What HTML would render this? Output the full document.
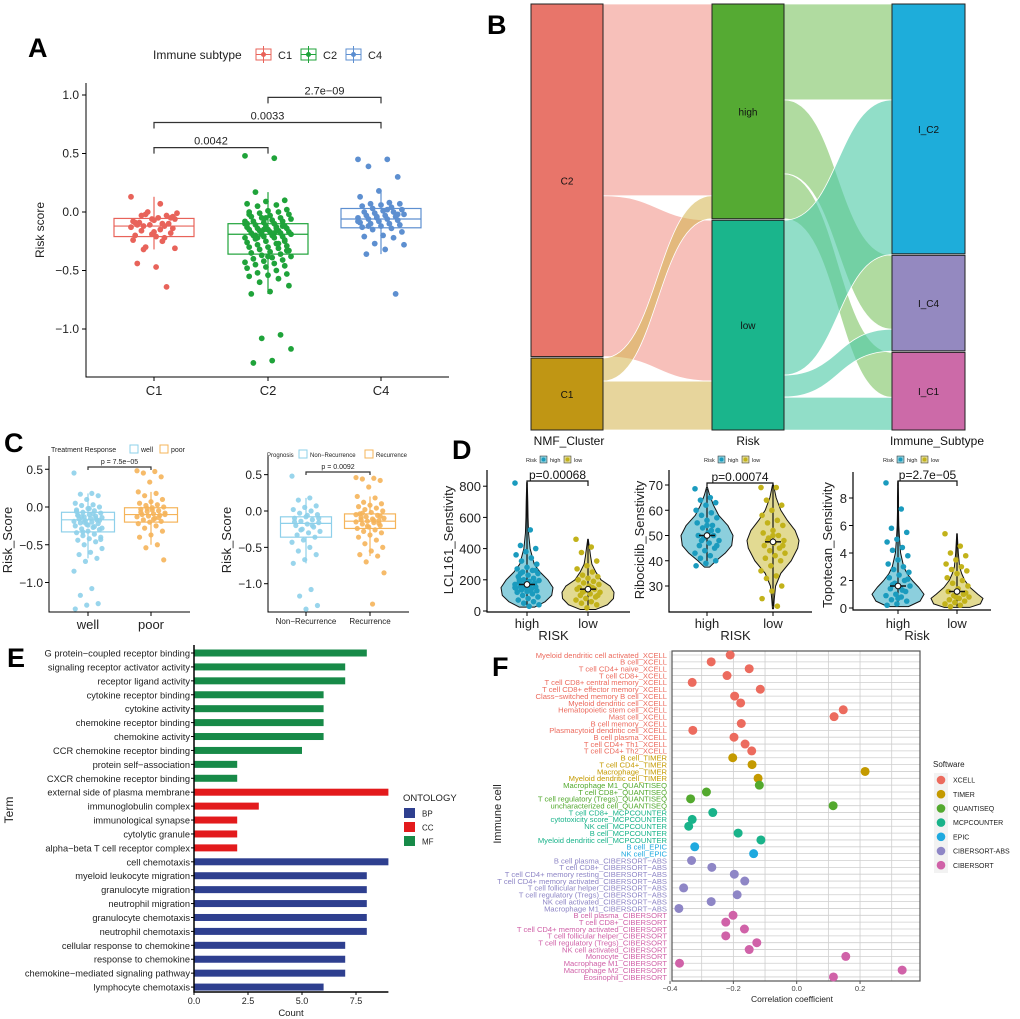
<!DOCTYPE html>
<html><head><meta charset="utf-8"><style>
html,body{margin:0;padding:0;background:#fff;}
svg{display:block;font-family:"Liberation Sans",Arial,sans-serif;}
</style></head><body>
<svg id="fig" width="1020" height="1019" viewBox="0 0 1020 1019" xmlns="http://www.w3.org/2000/svg">
<rect x="0" y="0" width="1020" height="1019" fill="#fff"/>
<g font-weight="bold" font-size="27" fill="#000">
<text x="28" y="57">A</text>
<text x="487" y="34">B</text>
<text x="4" y="452">C</text>
<text x="452" y="459">D</text>
<text x="7" y="667">E</text>
<text x="492" y="676">F</text>
</g>
<g id="pA"></g>
<g id="pB"></g>
<g id="pC"></g>
<g id="pD"></g>
<g id="pE"></g>
<g id="pF"></g>
</svg>
<script>
// ===== DATA =====
// Panel A
const aGroups = ["C1","C2","C4"];
const aC1 = [0.13,0.07,-0.03,-0.05,-0.06,-0.08,-0.1,-0.12,-0.14,-0.17,-0.2,-0.22,-0.3,-0.31,-0.47,-0.44,-0.64,0.0,-0.01,-0.05,-0.09,-0.1,-0.11,-0.13,-0.15,-0.16,-0.18,-0.19,-0.24,-0.25,-0.32,-0.04,-0.07,-0.09,-0.12,-0.02,-0.06,-0.21,-0.11,-0.03];
const aC2 = [0.48,0.46,0.17,0.1,0.09,0.07,0.06,0.05,0.02,0.01,0.0,0.0,-0.01,-0.02,-0.03,-0.04,-0.05,-0.05,-0.06,-0.07,-0.08,-0.08,-0.09,-0.1,-0.1,-0.11,-0.12,-0.12,-0.13,-0.13,-0.14,-0.14,-0.15,-0.15,-0.16,-0.16,-0.17,-0.17,-0.18,-0.18,-0.19,-0.19,-0.2,-0.2,-0.21,-0.21,-0.22,-0.22,-0.23,-0.24,-0.25,-0.26,-0.27,-0.28,-0.29,-0.3,-0.3,-0.31,-0.32,-0.33,-0.34,-0.35,-0.36,-0.37,-0.38,-0.39,-0.4,-0.41,-0.42,-0.43,-0.44,-0.45,-0.46,-0.47,-0.48,-0.5,-0.52,-0.53,-0.54,-0.55,-0.57,-0.6,-0.63,-0.68,-0.7,-1.05,-1.08,-1.17,-1.27,-1.29,-0.12,-0.15,-0.08,-0.18,-0.2,-0.25,-0.05,-0.1,-0.14,-0.22,-0.33,-0.38,-0.02,-0.27];
const aC4 = [0.45,0.45,0.39,0.3,0.18,0.13,0.08,0.07,0.07,0.06,0.05,0.04,0.03,0.02,0.01,0.0,0.0,-0.01,-0.02,-0.03,-0.03,-0.04,-0.05,-0.05,-0.06,-0.06,-0.07,-0.08,-0.09,-0.1,-0.1,-0.11,-0.12,-0.13,-0.14,-0.15,-0.17,-0.2,-0.21,-0.22,-0.27,-0.28,-0.32,-0.36,-0.7,-0.04,-0.08,0.02,-0.12,-0.02];
const aBoxC1 = [-0.32,-0.21,-0.12,-0.055,0.13];
const aBoxC2 = [-0.70,-0.36,-0.19,-0.10,0.17];
const aBoxC4 = [-0.36,-0.135,-0.06,0.03,0.17];
const aTicks = [1.0,0.5,0.0,-0.5,-1.0];
const aTickLabels = ["1.0","0.5","0.0","\u22120.5","\u22121.0"];
const aPvals = ["0.0042","0.0033","2.7e\u221209"];
const aPvalY = [0.55,0.765,0.98];
// Panel B (counts)
const bNmf = ["C2","C1"];
const bRisk = ["high","low"];
const bImm = ["I_C2","I_C4","I_C1"];
const bLeftFlows = [[0,0,192],[0,1,161],[1,0,23],[1,1,49]];
const bRightFlows = [[0,0,96],[0,1,74],[0,2,45],[1,0,155],[1,1,22],[1,2,33]];
// Panel C
const cWell = [0.45,0.18,0.17,0.15,0.1,0.05,0.03,0.02,0.0,-0.02,-0.04,-0.05,-0.07,-0.08,-0.1,-0.11,-0.12,-0.13,-0.14,-0.15,-0.16,-0.17,-0.18,-0.19,-0.2,-0.21,-0.22,-0.23,-0.25,-0.27,-0.29,-0.3,-0.32,-0.34,-0.36,-0.38,-0.4,-0.42,-0.44,-0.46,-0.5,-0.55,-0.6,-0.63,-0.68,-0.72,-0.85,-1.08,-1.17,-1.28,-1.3,-1.35,-0.09,-0.13,-0.18,-0.24,-0.06,-0.26,-0.33,-0.43,-0.02,-0.11,-0.15,-0.2,-0.28];
const cPoor = [0.48,0.47,0.45,0.4,0.33,0.2,0.18,0.15,0.1,0.07,0.05,0.03,0.02,0.0,-0.01,-0.03,-0.05,-0.06,-0.08,-0.09,-0.1,-0.11,-0.12,-0.13,-0.15,-0.17,-0.19,-0.2,-0.22,-0.25,-0.28,-0.32,-0.37,-0.4,-0.5,-0.54,-0.7,-0.04,-0.07,-0.14,-0.02,-0.1,-0.16];
const cNonRec = [0.48,0.18,0.15,0.07,0.05,0.02,0.0,-0.03,-0.05,-0.08,-0.1,-0.12,-0.14,-0.16,-0.18,-0.2,-0.22,-0.25,-0.28,-0.3,-0.33,-0.36,-0.4,-0.43,-0.5,-0.55,-0.6,-0.67,-0.72,-1.08,-1.17,-1.3,-1.35,-0.15,-0.2,-0.26,-0.1,-0.06];
const cRec = [0.46,0.45,0.44,0.42,0.33,0.2,0.18,0.12,0.1,0.08,0.06,0.04,0.02,0.0,-0.02,-0.04,-0.06,-0.08,-0.1,-0.11,-0.12,-0.13,-0.14,-0.15,-0.16,-0.18,-0.2,-0.22,-0.24,-0.26,-0.28,-0.3,-0.33,-0.36,-0.4,-0.45,-0.5,-0.55,-0.6,-0.62,-0.7,-0.85,-1.28,-0.09,-0.17,-0.21,-0.05,-0.13,-0.03,-0.07];
const cBoxWell = [-0.68,-0.33,-0.17,-0.07,0.18];
const cBoxPoor = [-0.5,-0.2,-0.1,-0.01,0.2];
const cBoxNonRec = [-0.72,-0.36,-0.17,-0.08,0.18];
const cBoxRec = [-0.62,-0.24,-0.14,-0.04,0.2];
const cTickLabels = ["0.5","0.0","\u22120.5","\u22121.0"];
const cTicks = [0.5,0.0,-0.5,-1.0];
// Panel D
const dLclHigh = [820,520,420,400,380,360,340,320,300,280,270,260,250,240,230,220,210,200,195,190,185,180,175,170,165,160,155,150,145,140,135,130,125,120,110,100,90,80,70,60,50,40,30,200,180,160,150,130,240,260];
const dLclLow = [460,410,375,320,290,270,250,230,220,210,200,190,180,170,160,150,140,130,120,110,100,90,80,70,60,50,40,20,140,150,120,100];
const dLclHighLv = [25,60,100,150,200,250,300,400,500,600,700,825];
const dLclHighW = [0.3,0.7,0.95,1.0,0.8,0.5,0.28,0.12,0.06,0.04,0.03,0.01];
const dLclLowLv = [10,40,80,120,160,200,250,300,350,400,460];
const dLclLowW = [0.3,0.75,0.98,1.0,0.85,0.5,0.3,0.15,0.1,0.06,0.01];
const dRiboHigh = [68.5,65,64,63,62,60,59,58,57,56,55,54,53,52,51,50,50,49,48,47,46,45,44,43,42,41,40,39,38,52,48,46,54];
const dRiboLow = [69,69,64,62,60,58,56,55,54,52,51,50,49,48,47,46,45,44,43,42,41,40,38,36,34,33,30,28,25,22,48,46,50];
const dRiboHighLv = [37.5,40,43,46,50,54,58,62,66,69];
const dRiboHighW = [0.1,0.35,0.7,0.95,1.0,0.8,0.45,0.25,0.1,0.02];
const dRiboLowLv = [21,25,30,35,40,45,48,52,56,60,65,70];
const dRiboLowW = [0.02,0.05,0.1,0.3,0.7,0.95,1.0,0.85,0.55,0.3,0.12,0.02];
const dTopoHigh = [9.1,7.2,5.8,5.5,5.0,4.8,4.4,4.2,3.8,3.5,3.2,3.0,2.8,2.6,2.4,2.2,2.0,1.8,1.6,1.5,1.4,1.2,1.0,0.9,0.8,0.6,0.5,0.3,0.2,1.3,1.7,2.1,0.7];
const dTopoLow = [5.4,4.5,4.0,3.8,3.5,3.2,3.0,2.8,2.7,2.5,2.2,2.0,1.8,1.6,1.4,1.2,1.0,0.9,0.8,0.7,0.6,0.5,0.4,0.3,0.2,0.1,1.1,0.8];
const dTopoHighLv = [0.1,0.5,1.0,1.5,2,2.5,3,4,5,6,7,8,9.2];
const dTopoHighW = [0.4,0.85,1.0,0.8,0.55,0.35,0.22,0.1,0.06,0.03,0.02,0.02,0.01];
const dTopoLowLv = [0.05,0.3,0.7,1.0,1.5,2,2.5,3,4,5.4];
const dTopoLowW = [0.5,0.9,1.0,0.8,0.5,0.3,0.18,0.1,0.05,0.01];
const dMedians = [170,140,50,47.5,1.6,1.2];
const dPvals = ["p=0.00068","p=0.00074","p=2.7e\u221205"];
// Panel E
const eTerms = ["G protein\u2212coupled receptor binding","signaling receptor activator activity","receptor ligand activity","cytokine receptor binding","cytokine activity","chemokine receptor binding","chemokine activity","CCR chemokine receptor binding","protein self\u2212association","CXCR chemokine receptor binding","external side of plasma membrane","immunoglobulin complex","immunological synapse","cytolytic granule","alpha\u2212beta T cell receptor complex","cell chemotaxis","myeloid leukocyte migration","granulocyte migration","neutrophil migration","granulocyte chemotaxis","neutrophil chemotaxis","cellular response to chemokine","response to chemokine","chemokine\u2212mediated signaling pathway","lymphocyte chemotaxis"];
const eCounts = [8,7,7,6,6,6,6,5,2,2,9,3,2,2,2,9,8,8,8,8,8,7,7,7,6];
const eOnt = ["MF","MF","MF","MF","MF","MF","MF","MF","MF","MF","CC","CC","CC","CC","CC","BP","BP","BP","BP","BP","BP","BP","BP","BP","BP"];
const eTicks = [0,2.5,5,7.5];
const eTickLabels = ["0.0","2.5","5.0","7.5"];
// Panel F
const fCells = ["Myeloid dendritic cell activated_XCELL","B cell_XCELL","T cell CD4+ naive_XCELL","T cell CD8+_XCELL","T cell CD8+ central memory_XCELL","T cell CD8+ effector memory_XCELL","Class\u2212switched memory B cell_XCELL","Myeloid dendritic cell_XCELL","Hematopoietic stem cell_XCELL","Mast cell_XCELL","B cell memory_XCELL","Plasmacytoid dendritic cell_XCELL","B cell plasma_XCELL","T cell CD4+ Th1_XCELL","T cell CD4+ Th2_XCELL","B cell_TIMER","T cell CD4+_TIMER","Macrophage_TIMER","Myeloid dendritic cell_TIMER","Macrophage M1_QUANTISEQ","T cell CD8+_QUANTISEQ","T cell regulatory (Tregs)_QUANTISEQ","uncharacterized cell_QUANTISEQ","T cell CD8+_MCPCOUNTER","cytotoxicity score_MCPCOUNTER","NK cell_MCPCOUNTER","B cell_MCPCOUNTER","Myeloid dendritic cell_MCPCOUNTER","B cell_EPIC","NK cell_EPIC","B cell plasma_CIBERSORT\u2212ABS","T cell CD8+_CIBERSORT\u2212ABS","T cell CD4+ memory resting_CIBERSORT\u2212ABS","T cell CD4+ memory activated_CIBERSORT\u2212ABS","T cell follicular helper_CIBERSORT\u2212ABS","T cell regulatory (Tregs)_CIBERSORT\u2212ABS","NK cell activated_CIBERSORT\u2212ABS","Macrophage M1_CIBERSORT\u2212ABS","B cell plasma_CIBERSORT","T cell CD8+_CIBERSORT","T cell CD4+ memory activated_CIBERSORT","T cell follicular helper_CIBERSORT","T cell regulatory (Tregs)_CIBERSORT","NK cell activated_CIBERSORT","Monocyte_CIBERSORT","Macrophage M1_CIBERSORT","Macrophage M2_CIBERSORT","Eosinophil_CIBERSORT"];
const fCorr = [-0.21,-0.27,-0.15,-0.22,-0.33,-0.115,-0.196,-0.177,0.147,0.118,-0.175,-0.328,-0.198,-0.163,-0.142,-0.202,-0.141,0.216,-0.122,-0.118,-0.285,-0.335,0.115,-0.265,-0.33,-0.341,-0.185,-0.113,-0.322,-0.136,-0.332,-0.268,-0.197,-0.164,-0.357,-0.188,-0.27,-0.372,-0.201,-0.224,-0.165,-0.224,-0.126,-0.15,0.155,-0.37,0.333,0.116];
const fSoftware = ["XCELL","XCELL","XCELL","XCELL","XCELL","XCELL","XCELL","XCELL","XCELL","XCELL","XCELL","XCELL","XCELL","XCELL","XCELL","TIMER","TIMER","TIMER","TIMER","QUANTISEQ","QUANTISEQ","QUANTISEQ","QUANTISEQ","MCPCOUNTER","MCPCOUNTER","MCPCOUNTER","MCPCOUNTER","MCPCOUNTER","EPIC","EPIC","CIBERSORT-ABS","CIBERSORT-ABS","CIBERSORT-ABS","CIBERSORT-ABS","CIBERSORT-ABS","CIBERSORT-ABS","CIBERSORT-ABS","CIBERSORT-ABS","CIBERSORT","CIBERSORT","CIBERSORT","CIBERSORT","CIBERSORT","CIBERSORT","CIBERSORT","CIBERSORT","CIBERSORT","CIBERSORT"];
const fSoftList = ["XCELL","TIMER","QUANTISEQ","MCPCOUNTER","EPIC","CIBERSORT-ABS","CIBERSORT"];
const fTicks = [-0.4,-0.2,0.0,0.2];
const fTickLabels = ["\u22120.4","\u22120.2","0.0","0.2"];

// ===== HELPERS =====
const NS = "http://www.w3.org/2000/svg";
function add(p, tag, a) { const e = document.createElementNS(NS, tag); for (const k in a) e.setAttribute(k, a[k]); p.appendChild(e); return e; }
function txt(p, x, y, s, a) { const e = add(p, "text", Object.assign({x: x, y: y}, a || {})); e.textContent = s; return e; }
function jit(i, w) { return (((i * 37) % 23) / 22 - 0.5) * w; }

// ===== PANEL A =====
(function () {
  const g = document.getElementById("pA");
  const yA = v => 212 - v * 117;
  const xA = [154, 268, 381];
  const cols = ["#E8635A", "#1FA33A", "#5D8FD0"];
  const pts = [aC1, aC2, aC4];
  const boxes = [aBoxC1, aBoxC2, aBoxC4];
  let e;
  e = add(g, "path", {d: "M86 83 V377 H449", fill: "none", stroke: "#000", "stroke-width": 1});
  
  
  aTicks.forEach((t, i) => {
    const l = add(g, "line", {x1: 82, x2: 86, y1: yA(t), y2: yA(t), stroke: "#000"});
    
    
    const tx = txt(g, 79, yA(t) + 4, aTickLabels[i], {"font-size": 12, "text-anchor": "end", fill: "#222"});
    
    
  });
  aGroups.forEach((gname, k) => {
    const l = add(g, "line", {x1: xA[k], x2: xA[k], y1: 377, y2: 381, stroke: "#000"});
    
    
    const tx = txt(g, xA[k], 395, gname, {"font-size": 13, "text-anchor": "middle", fill: "#222"});
    
    
    const b = boxes[k], c = cols[k];
    const bg = add(g, "g", {fill: "none", stroke: c, "stroke-width": 1.2});
    
    
    add(bg, "line", {x1: xA[k], x2: xA[k], y1: yA(b[4]), y2: yA(b[3])});
    add(bg, "line", {x1: xA[k], x2: xA[k], y1: yA(b[1]), y2: yA(b[0])});
    add(bg, "rect", {x: xA[k] - 40, y: yA(b[3]), width: 80, height: yA(b[1]) - yA(b[3]), fill: "#fff"});
    add(bg, "line", {x1: xA[k] - 40, x2: xA[k] + 40, y1: yA(b[2]), y2: yA(b[2])});
    pts[k].forEach((v, i) => {
      const d = add(g, "circle", {cx: xA[k] + jit(i, 46), cy: yA(v), r: 2.9, fill: c});
      
      
    });
  });
  const pairs = [[0, 1], [0, 2], [1, 2]];
  pairs.forEach((p, i) => {
    const y = yA(aPvalY[i]);
    const br = add(g, "path", {d: `M${xA[p[0]]} ${y + 6} V${y} H${xA[p[1]]} V${y + 6}`, fill: "none", stroke: "#333", "stroke-width": 1.2});
    
    
    const tx = txt(g, (xA[p[0]] + xA[p[1]]) / 2, y - 3, aPvals[i], {"font-size": 11, "text-anchor": "middle", fill: "#222"});
    
    
  });
  const yt = txt(g, 0, 0, "Risk score", {"font-size": 12, "text-anchor": "middle", transform: "translate(44,230) rotate(-90)", fill: "#222"});
  
  
  const lg = txt(g, 153, 59, "Immune subtype", {"font-size": 12, fill: "#222"});
  
  
  const lx = [256, 301, 346];
  aGroups.forEach((gname, k) => {
    const kg = add(g, "g", {stroke: cols[k], fill: "none"});
    
    
    add(kg, "rect", {x: lx[k], y: 49, width: 15, height: 11});
    add(kg, "line", {x1: lx[k], x2: lx[k] + 15, y1: 54.5, y2: 54.5});
    add(kg, "line", {x1: lx[k] + 7.5, x2: lx[k] + 7.5, y1: 46, y2: 63});
    add(kg, "circle", {cx: lx[k] + 7.5, cy: 54.5, r: 2, fill: cols[k]});
    const t = txt(g, lx[k] + 22, 59, gname, {"font-size": 11, fill: "#222"});
    
    
  });
})();

// ===== PANEL B =====
(function () {
  const g = document.getElementById("pB");
  const top = 4, bot = 430, gap = 1.5;
  const colsX = [[531, 603], [712, 784], [892, 965]];
  const nmfCol = ["#E8756A", "#C09614"], riskCol = ["#55AA33", "#1AB58C"], immCol = ["#1EADDA", "#9489C0", "#CC6AA8"];
  const nmfTot = [0, 0], riskTot = [0, 0], immTot = [0, 0, 0];
  bLeftFlows.forEach(f => { nmfTot[f[0]] += f[2]; riskTot[f[1]] += f[2]; });
  bRightFlows.forEach(f => { immTot[f[1]] += f[2]; });
  const total = nmfTot.reduce((a, b) => a + b, 0);
  function layout(tots) {
    const k = (bot - top - gap * (tots.length - 1)) / total;
    let y = top; return tots.map(t => { const r = [y, y + t * k]; y += t * k + gap; return r; });
  }
  const nmfL = layout(nmfTot), riskL = layout(riskTot), immL = layout(immTot);
  const k = (bot - top - gap) / total;
  function band(x0, a0, b0, x1, a1, b1) {
    const xm = (x0 + x1) / 2;
    return `M${x0} ${a0} C${xm} ${a0},${xm} ${a1},${x1} ${a1} L${x1} ${b1} C${xm} ${b1},${xm} ${b0},${x0} ${b0} Z`;
  }
  const outOff = nmfL.map(r => r[0]), inOff = riskL.map(r => r[0]);
  const flowColL = ["#F08C82", "#D4B24A"];
  bLeftFlows.forEach(f => {
    const h = f[2] * k;
    const p = add(g, "path", {d: band(colsX[0][1], outOff[f[0]], outOff[f[0]] + h, colsX[1][0], inOff[f[1]], inOff[f[1]] + h), fill: flowColL[f[0]], "fill-opacity": 0.55, stroke: "#fff", "stroke-width": 0.8});
    
    
    outOff[f[0]] += h; inOff[f[1]] += h;
  });
  const outOff2 = riskL.map(r => r[0]), inOff2 = immL.map(r => r[0]);
  const flowColR = ["#80C566", "#4DC9A7"];
  bRightFlows.forEach(f => {
    const h = f[2] * k;
    const p = add(g, "path", {d: band(colsX[1][1], outOff2[f[0]], outOff2[f[0]] + h, colsX[2][0], inOff2[f[1]], inOff2[f[1]] + h), fill: flowColR[f[0]], "fill-opacity": 0.62, stroke: "#fff", "stroke-width": 0.8});
    
    
    outOff2[f[0]] += h; inOff2[f[1]] += h;
  });
  function nodes(L, names, cols, xs) {
    L.forEach((r, i) => {
      const rc = add(g, "rect", {x: xs[0], y: r[0], width: xs[1] - xs[0], height: r[1] - r[0], fill: cols[i], stroke: "#222", "stroke-width": 1});
      
      
      const t = txt(g, (xs[0] + xs[1]) / 2, (r[0] + r[1]) / 2 + 4, names[i], {"font-size": 10, "text-anchor": "middle", fill: "#111"});
      
      
    });
  }
  nodes(nmfL, bNmf, nmfCol, colsX[0]);
  nodes(riskL, bRisk, riskCol, colsX[1]);
  nodes(immL, bImm, immCol, colsX[2]);
  const axn = ["NMF_Cluster", "Risk", "Immune_Subtype"], axx = [569, 748, 937];
  axn.forEach((s, i) => {
    const t = txt(g, axx[i], 445, s, {"font-size": 12, "text-anchor": "middle", fill: "#111"});
    
    
  });
})();

// ===== PANEL C =====
(function () {
  const g = document.getElementById("pC");
  const blue = "#8ED0EA", orange = "#F5B45A";
  function sub(ax, axEnd, yS, xs, bw, data, boxes, labels, labelSize, pval, brY, legTitle, legX, legY, legLabels, legFont, legPos) {
    let e = add(g, "path", {d: `M${ax} 456 V612 H${axEnd}`, fill: "none", stroke: "#000", "stroke-width": 1});
    
    
    cTicks.forEach((t, i) => {
      const l = add(g, "line", {x1: ax - 4, x2: ax, y1: yS(t), y2: yS(t), stroke: "#000"});
      
      
      const tx = txt(g, ax - 6, yS(t) + 4.5, cTickLabels[i], {"font-size": 12, "text-anchor": "end", fill: "#222"});
      
      
    });
    const cols = [blue, orange];
    [0, 1].forEach(k => {
      const b = boxes[k], c = cols[k];
      const l = add(g, "line", {x1: xs[k], x2: xs[k], y1: 612, y2: 616, stroke: "#000"});
      
      
      const tx = txt(g, xs[k], 612 + 4 + labelSize, labels[k], {"font-size": labelSize, "text-anchor": "middle", fill: "#222"});
      
      
      const bg = add(g, "g", {fill: "none", stroke: c, "stroke-width": 1.2});
      
      
      add(bg, "line", {x1: xs[k], x2: xs[k], y1: yS(b[4]), y2: yS(b[0])});
      add(bg, "rect", {x: xs[k] - bw / 2, y: yS(b[3]), width: bw, height: yS(b[1]) - yS(b[3]), fill: "#fff"});
      add(bg, "line", {x1: xs[k] - bw / 2, x2: xs[k] + bw / 2, y1: yS(b[2]), y2: yS(b[2])});
      data[k].forEach((v, i) => {
        const d = add(g, "circle", {cx: xs[k] + jit(i, 28), cy: yS(v), r: 2.6, fill: c, "fill-opacity": 0.9});
        
        
      });
    });
    const br = add(g, "path", {d: `M${xs[0]} ${brY + 3} V${brY} H${xs[1]} V${brY + 3}`, fill: "none", stroke: "#333", "stroke-width": 1.2});
    
    
    const pt = txt(g, (xs[0] + xs[1]) / 2, brY - 3, pval, {"font-size": 7, "text-anchor": "middle", fill: "#222"});
    
    
    const yt = txt(g, 0, 0, "Risk_Score", {"font-size": 13, "text-anchor": "middle", transform: `translate(${ax - 37},540) rotate(-90)`, fill: "#222"});
    
    
    const lt = txt(g, legX, legY, legTitle, {"font-size": legFont, fill: "#222"});
    
    
    [0, 1].forEach(k => {
      const x = legPos[k];
      const r = add(g, "rect", {x: x, y: legY - 7, width: 8, height: 8, fill: "none", stroke: cols[k]});
      
      
      const t = txt(g, x + 11, legY, legLabels[k], {"font-size": legFont, fill: "#222"});
      
      
    });
  }
  sub(49, 190, v => 507 - v * 75.5, [88, 151], 53, [cWell, cPoor], [cBoxWell, cBoxPoor], ["well", "poor"], 13, "p = 7.5e\u221205", 467, "Treatment Response", 51, 452, ["well", "poor"], 7, [130, 160]);
  sub(268, 409, v => 511 - v * 72.7, [306, 370], 51, [cNonRec, cRec], [cBoxNonRec, cBoxRec], ["Non\u2212Recurrence", "Recurrence"], 8, "p = 0.0092", 472, "Prognosis", 267, 457, ["Non\u2212Recurrence", "Recurrence"], 6, [299, 365]);
})();

// ===== PANEL D =====
(function () {
  const g = document.getElementById("pD");
  const hiPt = "#1A9BBE", loPt = "#C2B21A", hiFill = "#8CCFDD", loFill = "#E2DA92";
  function violin(x, yS, lv, w, fill, name) {
    const HW = 26;
    let d = `M${x} ${yS(lv[0])}`;
    for (let i = 0; i < lv.length; i++) d += ` L${x + w[i] * HW} ${yS(lv[i])}`;
    for (let i = lv.length - 1; i >= 0; i--) d += ` L${x - w[i] * HW} ${yS(lv[i])}`;
    d += " Z";
    const p = add(g, "path", {d: d, fill: fill, stroke: "#111", "stroke-width": 1, "stroke-linejoin": "round"});
    
    
  }
  function sub(o) {
    let e = add(g, "path", {d: `M${o.ax} ${o.top} V${o.bot} H${o.end}`, fill: "none", stroke: "#000", "stroke-width": 1.2});
    
    
    o.ticks.forEach(t => {
      const l = add(g, "line", {x1: o.ax - 4, x2: o.ax, y1: o.yS(t), y2: o.yS(t), stroke: "#000"});
      
      
      const tx = txt(g, o.ax - 6, o.yS(t) + 5, String(t), {"font-size": 13, "text-anchor": "end", fill: "#222"});
      
      
    });
    const cen = [o.xh, o.xl], nm = ["high", "low"];
    violin(o.xh, o.yS, o.hLv, o.hW, hiFill, 'd-violin-high');
    violin(o.xl, o.yS, o.lLv, o.lW, loFill, 'd-violin-low');
    [o.hPts, o.lPts].forEach((arr, k) => {
      const vl = add(g, "line", {x1: cen[k], x2: cen[k], y1: o.yS(Math.max.apply(null, arr)), y2: o.yS(Math.min.apply(null, arr)), stroke: "#111", "stroke-width": 1.2});
      
      
      arr.forEach((v, i) => {
        const d = add(g, "circle", {cx: cen[k] + jit(i, 24), cy: o.yS(v), r: 2.8, fill: k ? loPt : hiPt});
        
        
      });
      const ml = add(g, "line", {x1: cen[k] - 8, x2: cen[k] + 8, y1: o.yS(o.med[k]), y2: o.yS(o.med[k]), stroke: "#111", "stroke-width": 1.5});
      
      
      const mc = add(g, "circle", {cx: cen[k], cy: o.yS(o.med[k]), r: 2.8, fill: "#fff", stroke: "#111", "stroke-width": 1});
      
      
      const xt = add(g, "line", {x1: cen[k], x2: cen[k], y1: o.bot, y2: o.bot + 4, stroke: "#000"});
      
      
      const tl = txt(g, cen[k], 628, nm[k], {"font-size": 13, "text-anchor": "middle", fill: "#222"});
      
      
    });
    const xt = txt(g, (o.ax + o.end) / 2 - 5, 640, o.xTitle, {"font-size": 13, "text-anchor": "middle", fill: "#222"});
    
    
    const yt = txt(g, 0, 0, o.yTitle, {"font-size": 13, "text-anchor": "middle", transform: `translate(${o.ytx},${o.yty}) rotate(-90)`, fill: "#222"});
    
    
    const br = add(g, "path", {d: `M${o.xh} ${o.brY + 5} V${o.brY} H${o.xl} V${o.brY + 5}`, fill: "none", stroke: "#111", "stroke-width": 1.2});
    
    
    const pt = txt(g, (o.xh + o.xl) / 2, o.brY - 2, o.p, {"font-size": 12, "text-anchor": "middle", fill: "#111"});
    
    
    const lg = add(g, "g", {"font-size": 5.5, fill: "#222"});
    
    
    txt(lg, o.legX, 462, "Risk");
    add(lg, "rect", {x: o.legX + 14, y: 456, width: 7, height: 7, fill: hiFill, stroke: "#222", "stroke-width": 0.5});
    add(lg, "circle", {cx: o.legX + 17.5, cy: 459.5, r: 2, fill: hiPt});
    txt(lg, o.legX + 24, 462, "high");
    add(lg, "rect", {x: o.legX + 38, y: 456, width: 7, height: 7, fill: loFill, stroke: "#222", "stroke-width": 0.5});
    add(lg, "circle", {cx: o.legX + 41.5, cy: 459.5, r: 2, fill: loPt});
    txt(lg, o.legX + 48, 462, "low");
  }
  sub({ax: 487, end: 630, top: 470, bot: 612, yS: v => 611 - v * 0.156, ticks: [0, 200, 400, 600, 800], xh: 527, xl: 588, hLv: dLclHighLv, hW: dLclHighW, lLv: dLclLowLv, lW: dLclLowW, hPts: dLclHigh, lPts: dLclLow, med: [dMedians[0], dMedians[1]], xTitle: "RISK", yTitle: "LCL161_Senstivity", ytx: 453, yty: 540, brY: 481, p: dPvals[0], legX: 526});
  sub({ax: 669, end: 812, top: 470, bot: 612, yS: v => 535.5 - (v - 50) * 2.525, ticks: [30, 40, 50, 60, 70], xh: 707, xl: 773, hLv: dRiboHighLv, hW: dRiboHighW, lLv: dRiboLowLv, lW: dRiboLowW, hPts: dRiboHigh, lPts: dRiboLow, med: [dMedians[2], dMedians[3]], xTitle: "RISK", yTitle: "Ribociclib_Senstivity", ytx: 644, yty: 540, brY: 483, p: dPvals[1], legX: 704});
  sub({ax: 853, end: 991, top: 472, bot: 610, yS: v => 608 - v * 13.75, ticks: [0, 2, 4, 6, 8], xh: 898, xl: 957, hLv: dTopoHighLv, hW: dTopoHighW, lLv: dTopoLowLv, lW: dTopoLowW, hPts: dTopoHigh, lPts: dTopoLow, med: [dMedians[4], dMedians[5]], xTitle: "Risk", yTitle: "Topotecan_Sensitivity", ytx: 832, yty: 545, brY: 481, p: dPvals[2], legX: 883});
})();

// ===== PANEL E =====
(function () {
  const g = document.getElementById("pE");
  const x0 = 194, ppu = 21.6, y0 = 653, step = 13.92, bh = 7;
  const ontCol = {BP: "#2E3F8F", CC: "#E31A1C", MF: "#178A48"};
  const xS = v => x0 + v * ppu;
  eTerms.forEach((t, i) => {
    const y = y0 + i * step;
    const b = add(g, "rect", {x: x0, y: y - bh / 2, width: xS(eCounts[i]) - x0, height: bh, fill: ontCol[eOnt[i]]});
    
    
    const l = add(g, "line", {x1: x0 - 3, x2: x0, y1: y, y2: y, stroke: "#000"});
    
    
    const tx = txt(g, x0 - 4, y + 3.5, t, {"font-size": 9.3, "text-anchor": "end", fill: "#222"});
    
    
  });
  const ax = add(g, "path", {d: `M${x0} 645 V992 H${xS(9)}`, fill: "none", stroke: "#000", "stroke-width": 1.5});
  
  
  eTicks.forEach((t, i) => {
    const l = add(g, "line", {x1: xS(t), x2: xS(t), y1: 992, y2: 995, stroke: "#000"});
    
    
    const tx = txt(g, xS(t), 1004, eTickLabels[i], {"font-size": 9, "text-anchor": "middle", fill: "#222"});
    
    
  });
  const xt = txt(g, 291, 1016, "Count", {"font-size": 9.5, "text-anchor": "middle", fill: "#222"});
  
  
  const yt = txt(g, 0, 0, "Term", {"font-size": 12, "text-anchor": "middle", transform: "translate(13,810) rotate(-90)", fill: "#222"});
  
  
  const lt = txt(g, 403, 801, "ONTOLOGY", {"font-size": 9.5, fill: "#222"});
  
  
  ["BP", "CC", "MF"].forEach((o, i) => {
    const r = add(g, "rect", {x: 404, y: 808 + i * 14, width: 11, height: 10, fill: ontCol[o]});
    
    
    const t = txt(g, 422, 816.5 + i * 14, o, {"font-size": 8, fill: "#222"});
    
    
  });
})();

// ===== PANEL F =====
(function () {
  const g = document.getElementById("pF");
  const softCol = {"XCELL": "#EC6B5E", "TIMER": "#C49A00", "QUANTISEQ": "#53A92E", "MCPCOUNTER": "#19B38A", "EPIC": "#1EA9DF", "CIBERSORT-ABS": "#8E86C6", "CIBERSORT": "#D062A8"};
  const L = 672, R = 920, T = 651, B = 981;
  const xS = v => 796.7 + v * 316.7;
  const y0 = 655, step = 6.85;
  const bg = add(g, "rect", {x: L, y: T, width: R - L, height: B - T, fill: "#fff"});
  
  
  const grid = add(g, "g", {stroke: "#CFCFCF", "stroke-width": 0.8});
  
  
  for (let v = -0.4; v <= 0.35; v += 0.1) add(grid, "line", {x1: xS(v), x2: xS(v), y1: T, y2: B});
  fCells.forEach((c, i) => add(grid, "line", {x1: L, x2: R, y1: y0 + i * step, y2: y0 + i * step}));
  const bd = add(g, "rect", {x: L, y: T, width: R - L, height: B - T, fill: "none", stroke: "#555", "stroke-width": 1.2});
  
  
  fCells.forEach((c, i) => {
    const y = y0 + i * step;
    const t = txt(g, 667, y + 2.8, c, {"font-size": 7.6, "text-anchor": "end", fill: softCol[fSoftware[i]]});
    
    
    const d = add(g, "circle", {cx: xS(fCorr[i]), cy: y, r: 4.5, fill: softCol[fSoftware[i]]});
    
    
  });
  fTicks.forEach((t, i) => {
    const l = add(g, "line", {x1: xS(t), x2: xS(t), y1: B, y2: B + 3, stroke: "#555"});
    
    
    const tx = txt(g, xS(t), 991, fTickLabels[i], {"font-size": 7.5, "text-anchor": "middle", fill: "#444"});
    
    
  });
  const xt = txt(g, 792, 1002, "Correlation coefficient", {"font-size": 8.5, "text-anchor": "middle", fill: "#222"});
  
  
  const yt = txt(g, 0, 0, "Immune cell", {"font-size": 11, "text-anchor": "middle", transform: "translate(501,814) rotate(-90)", fill: "#222"});
  
  
  const lt = txt(g, 933, 767, "Software", {"font-size": 8, fill: "#222"});
  
  
  const lbg = add(g, "rect", {x: 934, y: 773, width: 14, height: 100, fill: "#F2F2F2"});
  
  
  fSoftList.forEach((s, i) => {
    const y = 780 + i * 14.2;
    const c = add(g, "circle", {cx: 941, cy: y, r: 4.3, fill: softCol[s]});
    
    
    const t = txt(g, 953, y + 2.6, s, {"font-size": 7, fill: "#222"});
    
    
  });
})();
</script>
</body></html>
